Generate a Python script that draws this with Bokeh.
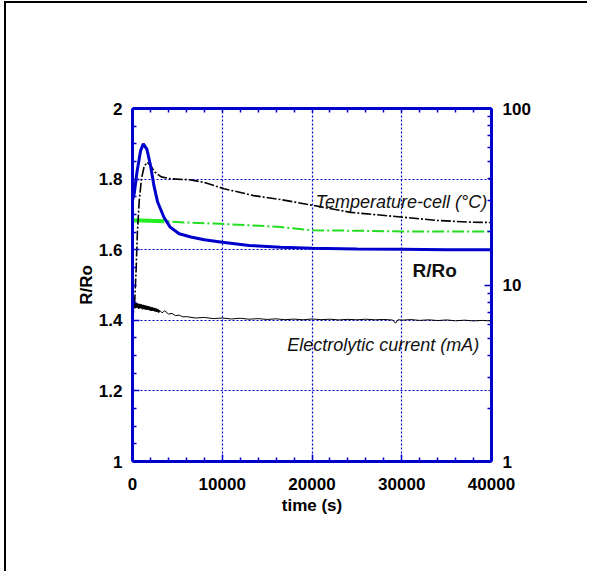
from bokeh.plotting import figure
from bokeh.models import (Range1d, LogScale, LinearAxis, LogAxis, FixedTicker,
                          NumeralTickFormatter, Label, InlineStyleSheet)
from bokeh.embed import file_html
from bokeh.resources import INLINE

# ---------------- data ----------------
# R/Ro (left axis)
rr_t = [0, 200, 500, 900, 1200, 1600, 2000, 2400, 2800, 3500, 4200, 5200, 6500,
        8000, 10000, 13000, 16500, 20000, 25000, 30000, 35000, 40000]
rr_v = [1.74, 1.76, 1.82, 1.88, 1.90, 1.885, 1.84, 1.78, 1.735, 1.692, 1.664, 1.645,
        1.636, 1.628, 1.621, 1.612, 1.607, 1.604, 1.602, 1.601, 1.600, 1.600]

# Temperature-cell (°C) (right log axis)
temp_t = [0, 250, 400, 550, 750, 1000, 1300, 1650, 2000, 2500, 3200, 4200, 6500,
          8000, 10200, 13500, 16500, 20200, 24300, 30200, 34000, 37700, 40000]
temp_v = [6.3, 8.2, 12.1, 20.1, 30.0, 40.0, 47.0, 49.6, 47.5, 43.6, 41.0, 40.0, 39.4,
          38.1, 35.1, 32.1, 30.5, 28.2, 25.8, 24.2, 23.2, 22.7, 22.6]

# second temperature trace (green, right log axis)
green_t = [0, 1000, 2000, 3500, 6000, 9800, 13000, 16500, 20200, 25000, 30200, 35000, 40000]
green_v = [23.2, 23.2, 23.1, 23.0, 22.6, 22.2, 21.8, 21.3, 20.4, 20.3, 20.1, 20.1, 20.1]

# Electrolytic current (mA) (right log axis)
cur_t = [0, 100, 200, 300, 400, 500, 600, 700, 800, 900, 1000, 1100, 1200, 1300, 1400,
         1500, 1600, 1700, 1800, 1900, 2000, 2100, 2200, 2300, 2400, 2500, 2600, 2700,
         2800, 2900, 3000, 3300, 3600, 4000, 4400, 4800, 5200, 5600, 6000, 7000, 8000,
         9000, 10000, 11000, 12000, 13000, 14000, 15000, 16000, 17000, 18000, 19000,
         20000, 21000, 22000, 23000, 24000, 25000, 26000, 27000, 28000, 29000, 29300,
         29600, 30000, 31000, 32000, 33000, 34000, 35000, 36000, 37000, 38000, 39000, 40000]
cur_v = [8.3, 7.5, 8.0, 7.4, 7.9, 7.45, 7.85, 7.35, 7.8, 7.4, 7.75, 7.3, 7.7, 7.3, 7.65,
         7.25, 7.6, 7.25, 7.55, 7.2, 7.5, 7.15, 7.45, 7.15, 7.4, 7.1, 7.35, 7.05,
         7.3, 7.0, 7.2, 6.95, 7.15, 6.85, 6.9, 6.7, 6.75, 6.6, 6.62, 6.5, 6.55,
         6.45, 6.5, 6.42, 6.48, 6.4, 6.45, 6.38, 6.43, 6.36, 6.41, 6.35,
         6.42, 6.36, 6.40, 6.34, 6.39, 6.35, 6.40, 6.35, 6.38, 6.33, 6.08,
         6.36, 6.32, 6.37, 6.30, 6.35, 6.29, 6.34, 6.27, 6.32, 6.26, 6.30, 6.25]

x_ticks = [0, 10000, 20000, 30000, 40000]
x_minor = [2000, 4000, 6000, 8000, 12000, 14000, 16000, 18000, 22000, 24000, 26000,
           28000, 32000, 34000, 36000, 38000]
y_ticks = [1, 1.2, 1.4, 1.6, 1.8, 2]
y_minor = [1.05, 1.1, 1.15, 1.25, 1.3, 1.35, 1.45, 1.5, 1.55, 1.65, 1.7, 1.75,
           1.85, 1.9, 1.95]
r_ticks = [1, 10, 100]
r_minor = [2, 3, 4, 5, 6, 7, 8, 9, 20, 30, 40, 50, 60, 70, 80, 90]

# ---------------- style ----------------
BLUE = "#0000cc"
FONT = "Liberation Sans"

p = figure(frame_width=359, frame_height=353,
           x_range=Range1d(0, 40000), y_range=Range1d(1, 2),
           output_backend="svg", toolbar_location=None,
           min_border_left=126, min_border_top=105,
           min_border_right=96, min_border_bottom=110,
           background_fill_color="white", border_fill_color="white")
p.outline_line_color = None
# black page-frame lines along the left and top edges of the picture
p.stylesheets = [InlineStyleSheet(css=":host { border-left: 2px solid black; "
                                      "border-top: 2px solid black; "
                                      "margin-left: 4px; margin-top: 1px; }")]

p.extra_y_ranges = {"log": Range1d(1, 100)}
p.extra_y_scales = {"log": LogScale()}


def style_axis(ax, standoff):
    ax.axis_line_color = BLUE
    ax.axis_line_width = 3
    ax.major_tick_line_color = BLUE
    ax.minor_tick_line_color = BLUE
    ax.major_tick_line_width = 1.5
    ax.minor_tick_line_width = 1.5
    ax.major_tick_in = 7
    ax.major_tick_out = 0
    ax.minor_tick_in = 4
    ax.minor_tick_out = 0
    ax.major_label_text_font = FONT
    ax.major_label_text_font_style = "bold"
    ax.major_label_text_font_size = "17px"
    ax.major_label_text_color = "black"
    ax.major_label_standoff = standoff
    ax.axis_label_text_font = FONT
    ax.axis_label_text_font_style = "bold"
    ax.axis_label_text_font_size = "17px"
    ax.axis_label_text_color = "black"
    ax.axis_label_standoff = 0


xt = FixedTicker(ticks=x_ticks, minor_ticks=x_minor)
yt = FixedTicker(ticks=y_ticks, minor_ticks=y_minor)

xa = p.xaxis[0]
xa.ticker = xt
xa.formatter = NumeralTickFormatter(format="0")
xa.axis_label = "time (s)"
style_axis(xa, 16)
xa.axis_label_standoff = 3

ya = p.yaxis[0]
ya.ticker = yt
ya.formatter = NumeralTickFormatter(format="0.[0]")
ya.axis_label = "R/Ro"
style_axis(ya, 10)

# top frame edge: ticks only, no labels
top = LinearAxis(ticker=FixedTicker(ticks=[], minor_ticks=x_minor + x_ticks))
style_axis(top, 5)
p.add_layout(top, "above")

right = LogAxis(y_range_name="log",
                ticker=FixedTicker(ticks=r_ticks, minor_ticks=r_minor),
                formatter=NumeralTickFormatter(format="0"))
style_axis(right, 11)
p.add_layout(right, "right")

for g in (p.xgrid[0], p.ygrid[0]):
    g.grid_line_color = BLUE
    g.grid_line_width = 1.2
    g.grid_line_dash = "2 2"
p.xgrid[0].ticker = xt
p.ygrid[0].ticker = yt

# ---------------- curves ----------------
p.line(green_t, green_v, y_range_name="log", line_color="#22dd22", line_width=2,
       line_dash="12 3 2 3")
p.line(green_t[:4], green_v[:4], y_range_name="log", line_color="#22ee22", line_width=4)
p.line(cur_t, cur_v, y_range_name="log", line_color="black", line_width=1)
p.line(cur_t[:31], cur_v[:31], y_range_name="log", line_color="black", line_width=1.6)
p.line(temp_t, temp_v, y_range_name="log", line_color="black", line_width=1.6,
       line_dash="10 2 2 2")
p.line(rr_t, rr_v, line_color=BLUE, line_width=3)

# ---------------- annotations ----------------
p.add_layout(Label(x=20400, y=1.735, text="Temperature-cell (°C)",
                   text_font=FONT, text_font_style="italic", text_font_size="18px",
                   text_baseline="middle", text_color="#111111"))
p.add_layout(Label(x=17240, y=1.329, text="Electrolytic current (mA)",
                   text_font=FONT, text_font_style="italic", text_font_size="18px",
                   text_baseline="middle", text_color="#111111"))
p.add_layout(Label(x=31200, y=1.541, text="R/Ro",
                   text_font=FONT, text_font_style="bold", text_font_size="19px",
                   text_baseline="middle", text_color="#111111"))

open("out.html", "w").write(file_html(p, INLINE))
